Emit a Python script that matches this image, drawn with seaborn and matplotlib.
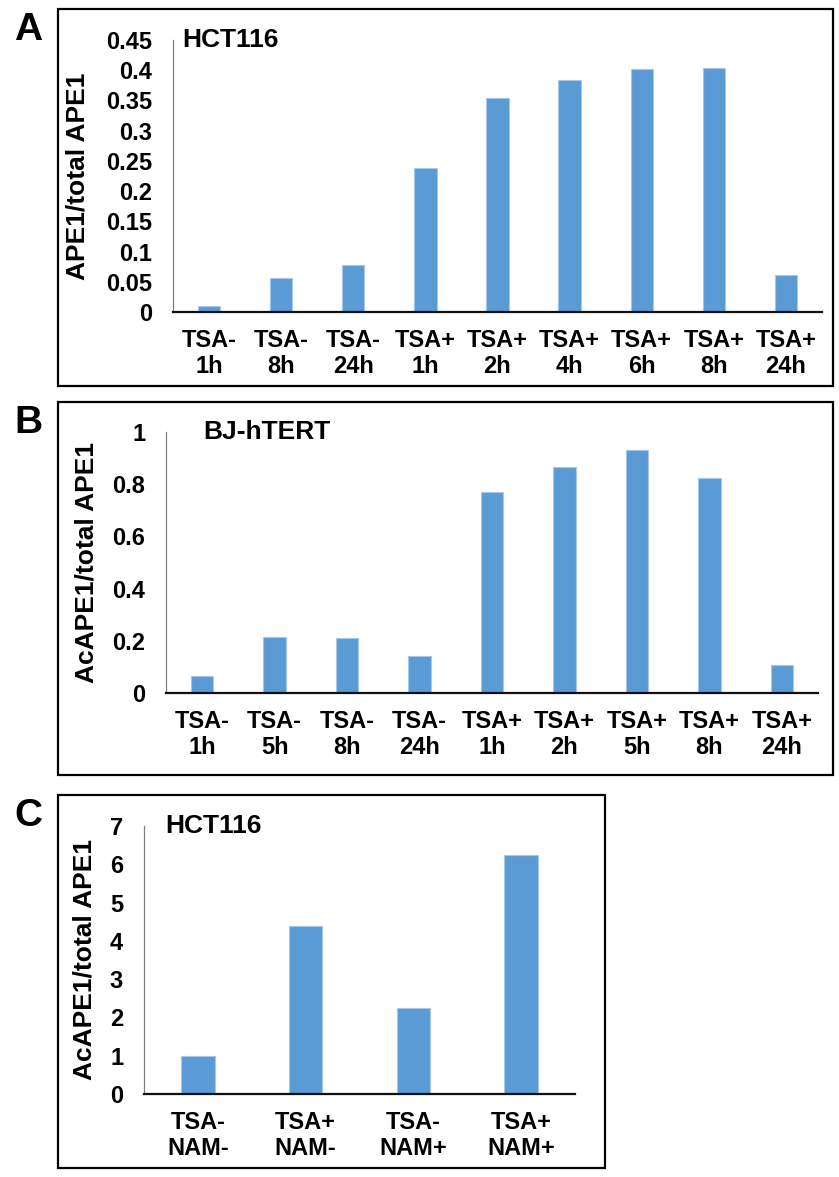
import matplotlib
matplotlib.use("Agg")
import matplotlib.pyplot as plt
import seaborn as sns
from matplotlib.patches import Rectangle
from matplotlib.ticker import FuncFormatter

# panel A - HCT116
a_labels = ["TSA-\n1h", "TSA-\n8h", "TSA-\n24h", "TSA+\n1h", "TSA+\n2h",
            "TSA+\n4h", "TSA+\n6h", "TSA+\n8h", "TSA+\n24h"]
a_values = [0.010, 0.056, 0.078, 0.239, 0.354, 0.384, 0.402, 0.403, 0.062]

# panel B - BJ-hTERT
b_labels = ["TSA-\n1h", "TSA-\n5h", "TSA-\n8h", "TSA-\n24h", "TSA+\n1h",
            "TSA+\n2h", "TSA+\n5h", "TSA+\n8h", "TSA+\n24h"]
b_values = [0.065, 0.213, 0.212, 0.142, 0.770, 0.865, 0.932, 0.825, 0.106]

# panel C - HCT116 with NAM
c_labels = ["TSA-\nNAM-", "TSA+\nNAM-", "TSA-\nNAM+", "TSA+\nNAM+"]
c_values = [1.0, 4.40, 2.25, 6.24]

sns.set_theme(style="white")
plt.rcParams["font.family"] = ["Liberation Sans", "DejaVu Sans"]
plt.rcParams["font.weight"] = "bold"
plt.rcParams["text.color"] = "black"
plt.rcParams["xtick.color"] = "black"
plt.rcParams["ytick.color"] = "black"
plt.rcParams["axes.labelcolor"] = "black"

W, H = 839, 1177
fig = plt.figure(figsize=(W / 100, H / 100), dpi=100)

BAR = "#5B9BD5"
EDGE = "#A7C7EA"


def fmt(v, pos):
    return f"{v:.2f}".rstrip("0").rstrip(".")


def panel(rect, box, letter, labels, values, ymax, step, ylabel, title,
          title_x, ylabel_x):
    # outer frame of the panel (pixel coordinates from top-left)
    x0, y0, x1, y1 = box
    fig.patches.append(Rectangle((x0 / W, 1 - y1 / H), (x1 - x0) / W, (y1 - y0) / H,
                                 transform=fig.transFigure, fill=False,
                                 edgecolor="black", linewidth=1.6))
    fig.text(28 / W, 1 - (y0 + 21) / H, letter, fontsize=28, fontweight="bold",
             ha="center", va="center")

    l, t, r, b = rect
    ax = fig.add_axes([l / W, 1 - b / H, (r - l) / W, (b - t) / H])
    sns.barplot(x=labels, y=values, color=BAR, saturation=1, width=0.31,
                edgecolor=EDGE, linewidth=0.8, ax=ax)
    ax.set_xlim(-0.5, len(labels) - 0.5)
    ax.set_ylim(0, ymax)
    n = int(round(ymax / step))
    ax.set_yticks([i * step for i in range(n + 1)])
    ax.yaxis.set_major_formatter(FuncFormatter(fmt))
    ax.tick_params(axis="y", length=0, pad=15, labelsize=17)
    ax.tick_params(axis="x", length=0, pad=12, labelsize=17)
    for lab in ax.get_xticklabels() + ax.get_yticklabels():
        lab.set_fontweight("bold")
    ax.set_xlabel("")
    ax.set_ylabel(ylabel, fontsize=19, fontweight="bold")
    ax.yaxis.set_label_coords(ylabel_x, 0.5)
    ax.spines["top"].set_visible(False)
    ax.spines["right"].set_visible(False)
    ax.spines["left"].set_color("#7f7f7f")
    ax.spines["left"].set_linewidth(0.9)
    ax.spines["bottom"].set_color("#111111")
    ax.spines["bottom"].set_linewidth(1.6)
    ax.text(title_x, 1.0, title, transform=ax.transAxes, fontsize=19,
            fontweight="bold", ha="left", va="center")
    return ax


panel((173, 40, 822, 312), (58, 9, 833, 386), "A", a_labels, a_values,
      0.45, 0.05, "APE1/total APE1", "HCT116", 0.015, -0.128)
panel((166, 432, 818, 693), (58, 402, 833, 775), "B", b_labels, b_values,
      1.0, 0.2, "AcAPE1/total APE1", "BJ-hTERT", 0.057, -0.104)
panel((144, 826, 575, 1094), (58, 795, 605, 1168), "C", c_labels, c_values,
      7, 1, "AcAPE1/total APE1", "HCT116", 0.049, -0.111)

fig.savefig("out.png", dpi=100)
